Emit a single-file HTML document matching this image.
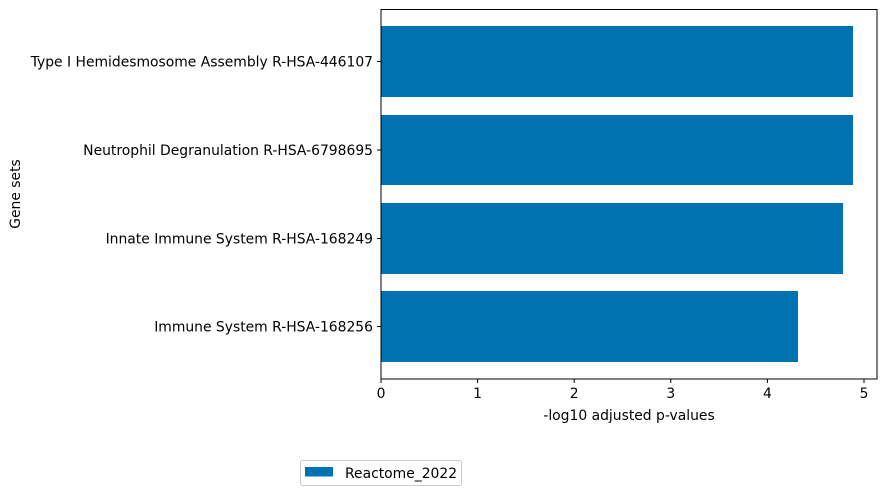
<!DOCTYPE html>
<html><head><meta charset="utf-8"><style>body{margin:0;background:#fff}</style></head><body>
<svg width="886" height="495" xmlns="http://www.w3.org/2000/svg" font-family="DejaVu Sans, sans-serif" font-size="13.9" fill="#000">
<rect x="0" y="0" width="886" height="495" fill="#fff"/>
<g fill="#0072b2">
<rect x="381" y="26" width="472" height="71"/>
<rect x="381" y="115" width="472" height="70"/>
<rect x="381" y="203" width="462" height="71"/>
<rect x="381" y="291" width="417" height="71"/>
</g>
<rect x="381" y="9.5" width="496" height="369.5" fill="none" stroke="#000" stroke-width="1"/>
<g stroke="#000" stroke-width="1">
<line x1="381" y1="379" x2="381" y2="383"/><line x1="477.6" y1="379" x2="477.6" y2="383"/><line x1="574.2" y1="379" x2="574.2" y2="383"/><line x1="670.8" y1="379" x2="670.8" y2="383"/><line x1="767.4" y1="379" x2="767.4" y2="383"/><line x1="864" y1="379" x2="864" y2="383"/>
<line x1="377" y1="61.5" x2="381" y2="61.5"/><line x1="377" y1="150" x2="381" y2="150"/><line x1="377" y1="238.5" x2="381" y2="238.5"/><line x1="377" y1="326.5" x2="381" y2="326.5"/>
</g>
<g text-anchor="middle">
<text x="381" y="398">0</text><text x="477.6" y="398">1</text><text x="574.2" y="398">2</text><text x="670.8" y="398">3</text><text x="767.4" y="398">4</text><text x="864" y="398">5</text>
<text x="629" y="420">-log10 adjusted p-values</text>
</g>
<g text-anchor="end">
<text x="373" y="66.5">Type I Hemidesmosome Assembly R-HSA-446107</text>
<text x="373" y="155">Neutrophil Degranulation R-HSA-6798695</text>
<text x="373" y="243.5">Innate Immune System R-HSA-168249</text>
<text x="373" y="331.5">Immune System R-HSA-168256</text>
</g>
<text transform="translate(20,194) rotate(-90)" text-anchor="middle">Gene sets</text>
<rect x="300.5" y="460.5" width="161" height="25" rx="2" fill="#fff" stroke="#ccc"/>
<rect x="305" y="467" width="28" height="9.5" fill="#0072b2"/>
<text x="345" y="478">Reactome_2022</text>
</svg>
</body></html>
